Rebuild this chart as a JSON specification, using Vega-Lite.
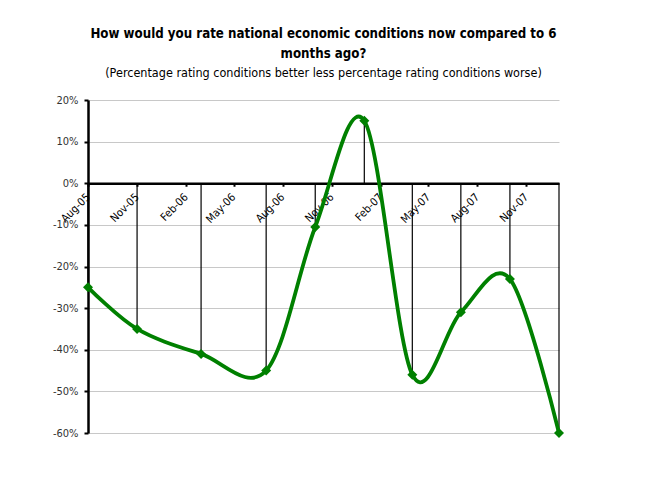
{
  "$schema": "https://vega.github.io/schema/vega-lite/v6.json",
  "width": 471,
  "height": 333,
  "autosize": {"type": "none"},
  "padding": {"left": 88, "top": 100, "right": 92, "bottom": 67},
  "background": "white",
  "title": {
    "text": ["How would you rate national economic conditions now compared to 6", "months ago?"],
    "subtitle": "(Percentage rating conditions better less percentage rating conditions worse)",
    "anchor": "middle",
    "font": "DejaVu Sans Condensed, sans-serif",
    "fontSize": 13.2,
    "fontWeight": "bold",
    "color": "black",
    "lineHeight": 20,
    "subtitleFont": "DejaVu Sans Condensed, sans-serif",
    "subtitleFontSize": 12.5,
    "subtitleColor": "black",
    "subtitlePadding": 5,
    "offset": 14
  },
  "config": {
    "view": {"stroke": null},
    "font": "DejaVu Sans Condensed, sans-serif"
  },
  "data": {
    "values": [
      {"date": "2005-08-01T00:00:00", "value": -25},
      {"date": "2005-11-01T00:00:00", "value": -35},
      {"date": "2006-03-01T00:00:00", "value": -41},
      {"date": "2006-07-01T00:00:00", "value": -45},
      {"date": "2006-10-01T00:00:00", "value": -10.5},
      {"date": "2007-01-01T00:00:00", "value": 15},
      {"date": "2007-04-01T00:00:00", "value": -46},
      {"date": "2007-07-01T00:00:00", "value": -31},
      {"date": "2007-10-01T00:00:00", "value": -23},
      {"date": "2008-01-01T00:00:00", "value": -60}
    ]
  },
  "encoding": {
    "x": {
      "field": "date",
      "type": "temporal",
      "scale": {"domain": [{"year": 2005, "month": 8, "date": 1}, {"year": 2008, "month": 1, "date": 1}]},
      "axis": {
        "title": null,
        "orient": "bottom",
        "offset": -249.75,
        "values": [
          {"year": 2005, "month": 8, "date": 1},
          {"year": 2005, "month": 11, "date": 1},
          {"year": 2006, "month": 2, "date": 1},
          {"year": 2006, "month": 5, "date": 1},
          {"year": 2006, "month": 8, "date": 1},
          {"year": 2006, "month": 11, "date": 1},
          {"year": 2007, "month": 2, "date": 1},
          {"year": 2007, "month": 5, "date": 1},
          {"year": 2007, "month": 8, "date": 1},
          {"year": 2007, "month": 11, "date": 1}
        ],
        "format": "%b-%y",
        "labelAngle": -45,
        "labelAlign": "right",
        "labelBaseline": "middle",
        "labelPadding": 9,
        "labelFontSize": 11,
        "labelColor": "black",
        "labelOverlap": false,
        "labelFlush": false,
        "domainColor": "black",
        "domainWidth": 2.5,
        "tickColor": "black",
        "tickWidth": 2,
        "tickSize": 3,
        "grid": false
      }
    },
    "y": {
      "field": "value",
      "type": "quantitative",
      "scale": {"domain": [-60, 20], "nice": false},
      "axis": {
        "title": null,
        "values": [-60, -50, -40, -30, -20, -10, 0, 10, 20],
        "labelExpr": "datum.value + '%'",
        "labelFontSize": 11,
        "labelColor": "#333333",
        "labelPadding": 6,
        "domainColor": "black",
        "domainWidth": 2.5,
        "tickColor": "black",
        "tickWidth": 2,
        "tickSize": 4,
        "grid": true,
        "gridColor": "#c8c8c8",
        "gridWidth": 1
      }
    }
  },
  "layer": [
    {
      "mark": {"type": "rule", "color": "black", "strokeWidth": 1.2},
      "encoding": {"y2": {"datum": 0}}
    },
    {
      "mark": {
        "type": "line",
        "interpolate": "cardinal",
        "color": "#008000",
        "strokeWidth": 3.8
      }
    },
    {
      "mark": {
        "type": "point",
        "shape": "diamond",
        "filled": true,
        "color": "#008000",
        "opacity": 1,
        "size": 100
      }
    }
  ]
}
